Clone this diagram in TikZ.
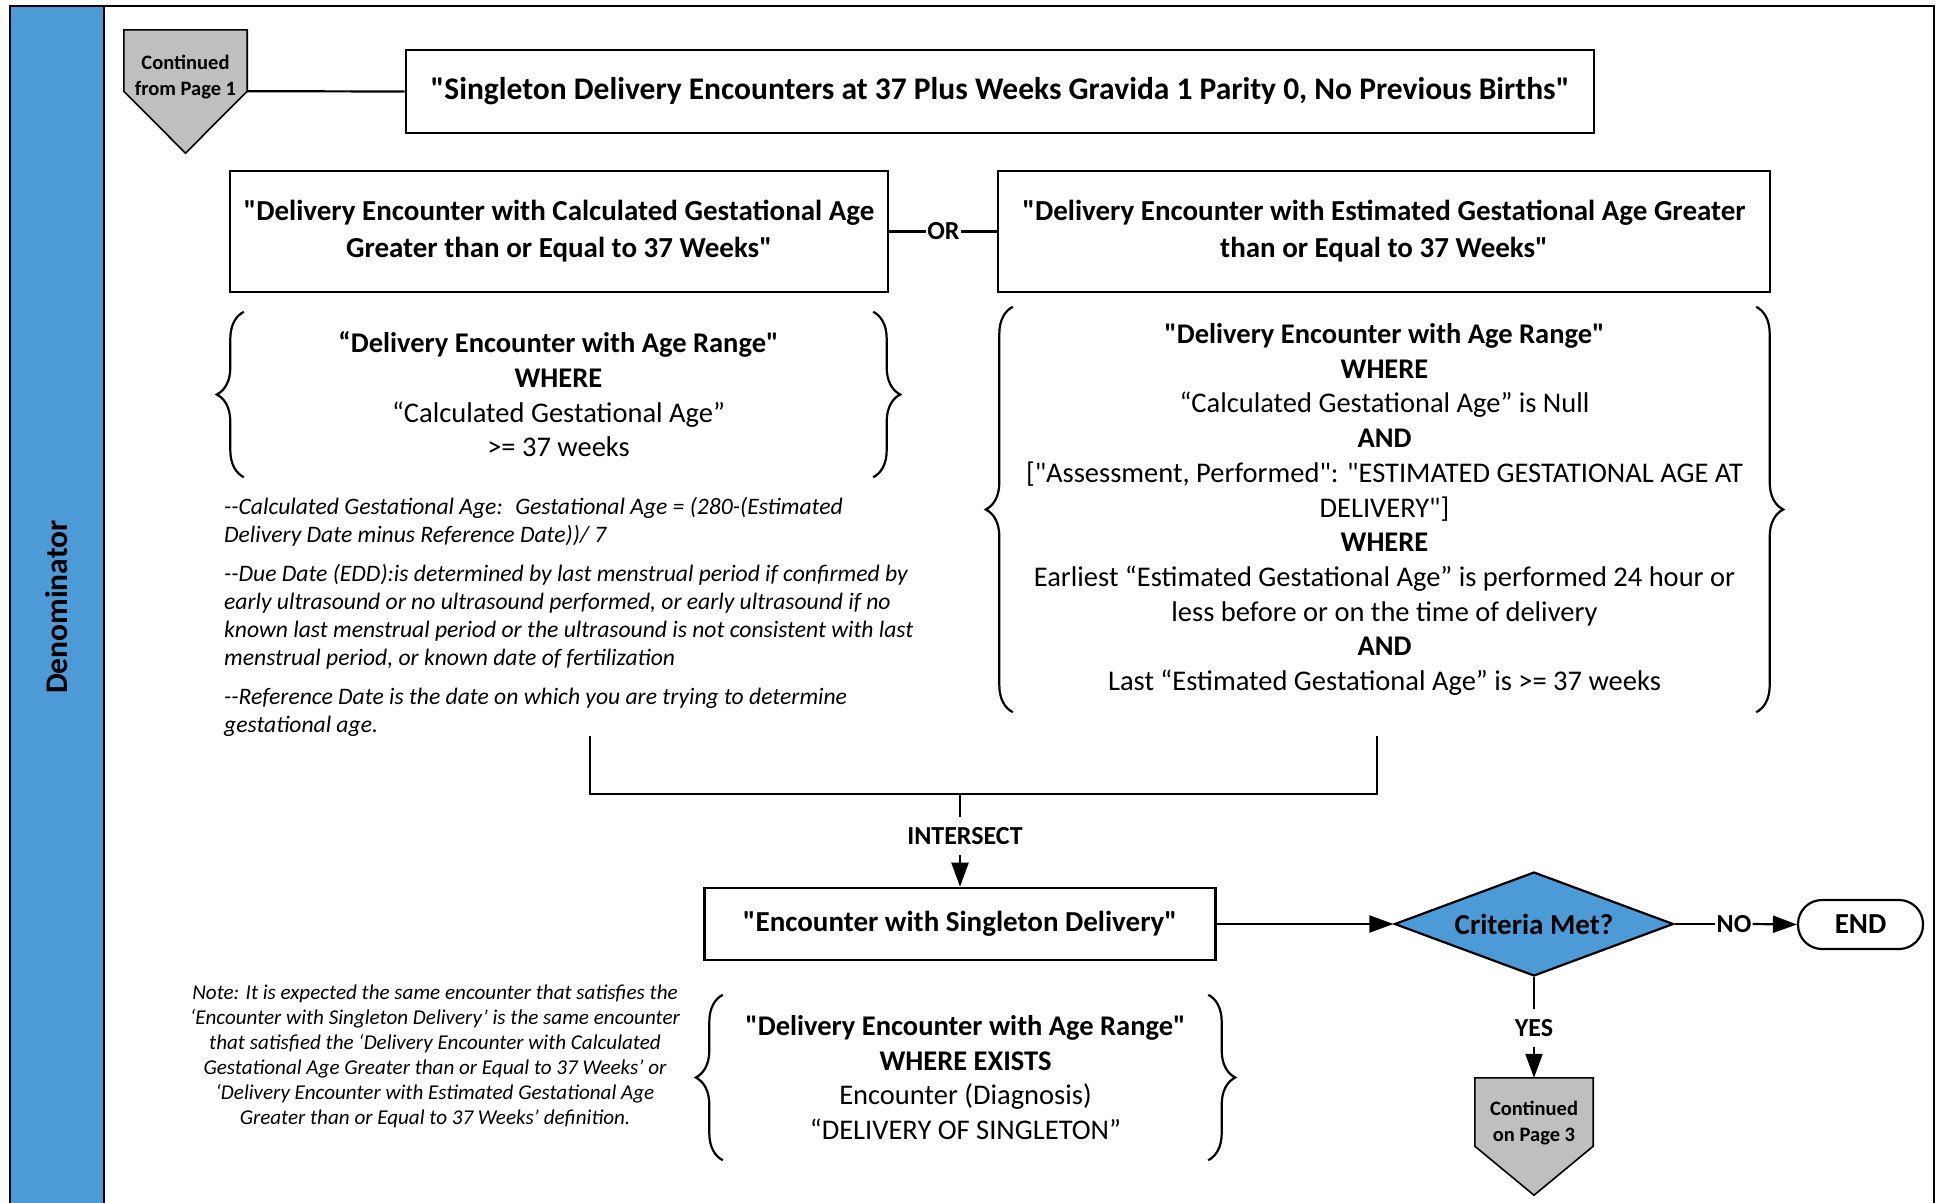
\documentclass[tikz,border=0pt]{standalone}
\usepackage{fontspec}
\setmainfont{Carlito}
\usetikzlibrary{arrows.meta,calc,shapes.geometric,decorations.pathreplacing}
\definecolor{lanebl}{RGB}{77,155,214}
\definecolor{contgr}{RGB}{191,191,191}
\def\fs#1#2{\fontsize{#1}{#2}\selectfont}
\def\dq{\XeTeXglyph\XeTeXcharglyph"22 }

\tikzset{
	qbox/.style={draw, line width=2.6pt, fill=white, align=center, inner sep=0pt, font={\fs{29}{37}\bfseries}},
	brtext/.style={align=center, inner sep=0pt, font={\fs{28.5}{34.7}}},
	lbl/.style={inner xsep=1pt, inner ysep=0pt, font={\fs{26}{30}\bfseries}},
	conn/.style={line width=2.2pt},
	arr/.style={conn, -{Triangle[length=24pt,width=17pt]}},
	brc/.style={line width=2.2pt, decorate, decoration={brace, amplitude=27pt}},
	contbx/.style={draw, line width=1.6pt, fill=contgr, line join=miter},
	conttext/.style={align=center, inner sep=0pt, font={\fs{20.5}{26}\bfseries}}
}

\begin{document}
\begin{tikzpicture}[x=1pt, y=-1pt]
			%%%%% START %%%%%
			\useasboundingbox (0,0) rectangle (1942,1202);
			
			\draw[line width=2.6pt] (10,6) rectangle (1934,1215);
			\draw[line width=2.6pt, fill=lanebl] (10,6) rectangle (104,1215);
			\node[rotate=90, inner sep=0pt, font={\fs{31.5}{36}\bfseries}] (lane) at (57,607) {Denominator};
			
			% continued from page 1
			\node[inner sep=0pt, minimum width=123pt, minimum height=61pt] (cont1) at (185.5,60.5) {};
			\draw[contbx] (cont1.north west) -- (cont1.north east) -- (cont1.south east) -- ($(cont1.south)+(0,62)$) -- (cont1.south west) -- cycle;
			\node[conttext] (cont1txt) at (185.5,77.5) {Continued\\from Page 1};
			
			\node[qbox, minimum width=1188pt, minimum height=83pt, font={\fs{31.5}{37}\bfseries}] (title) at (1000,91.5) {\dq Singleton Delivery Encounters at 37 Plus Weeks Gravida 1 Parity 0, No Previous Births\dq};
			\draw[conn] (cont1.south east) -- (title.west);
			
			% the two branches
			\node[qbox, minimum width=658pt, minimum height=121pt] (calc) at (559,231.5) {\dq Delivery Encounter with Calculated Gestational Age\\Greater than or Equal to 37 Weeks\dq};
			\node[qbox, minimum width=772pt, minimum height=121pt] (estim) at (1384,231.5) {\dq Delivery Encounter with Estimated Gestational Age Greater\\than or Equal to 37 Weeks\dq};
			\node[lbl] (orlbl) at (943.5,231.5) {OR};
			\draw[conn] (calc.east) -- (orlbl.west);
			\draw[conn] (orlbl.east) -- (estim.west);
			
			\node[brtext, minimum width=629pt, minimum height=165pt] (calcw) at (558.5,394.5) {\textbf{“Delivery Encounter with Age Range\dq}\\\textbf{WHERE}\\“Calculated Gestational Age”\\>= 37 weeks};
			\draw[brc] (calcw.south west) -- (calcw.north west);
			\draw[brc] (calcw.north east) -- (calcw.south east);
			
			\node[brtext, minimum width=743pt, minimum height=405pt] (estw) at (1384.5,509.5) {\textbf{\dq Delivery Encounter with Age Range\dq}\\\textbf{WHERE}\\“Calculated Gestational Age” is Null\\\textbf{AND}\\{[}\dq Assessment, Performed\dq: \dq ESTIMATED GESTATIONAL AGE AT\\DELIVERY\dq{]}\\\textbf{WHERE}\\Earliest “Estimated Gestational Age” is performed 24 hour or\\less before or on the time of delivery\\\textbf{AND}\\Last “Estimated Gestational Age” is >= 37 weeks};
			\draw[brc] (estw.south west) -- (estw.north west);
			\draw[brc] (estw.north east) -- (estw.south east);
			
			\node[anchor=north west, align=left, inner sep=0pt, font={\fs{23.6}{28}\itshape}] (defs) at (224,497) {-{}-Calculated Gestational Age: \ Gestational Age = (280-(Estimated\\Delivery Date minus Reference Date))/ 7\\[11pt]-{}-Due Date (EDD):is determined by last menstrual period if confirmed by\\early ultrasound or no ultrasound performed, or early ultrasound if no\\known last menstrual period or the ultrasound is not consistent with last\\menstrual period, or known date of fertilization\\[11pt]-{}-Reference Date is the date on which you are trying to determine\\gestational age.};
			
			% intersect
			\coordinate (jl) at (590,736);
			\coordinate (jr) at (1377,736);
			\coordinate (jm) at (960,794);
			\draw[conn] (jl) |- (jm) -| (jr);
			\node[lbl, minimum height=37pt] (isect) at (965,836) {INTERSECT};
			\node[qbox, minimum width=511pt, minimum height=72pt] (single) at (960,924) {\dq Encounter with Singleton Delivery\dq};
			\draw[conn] (jm) -- (isect.north -| jm);
			\draw[arr] (isect.south -| jm) -- (single.north);
			
			\node[brtext, minimum width=485pt, minimum height=165pt] (singw) at (965.5,1077.5) {\textbf{\dq Delivery Encounter with Age Range\dq}\\\textbf{WHERE EXISTS}\\Encounter (Diagnosis)\\“DELIVERY OF SINGLETON”};
			\draw[brc] (singw.south west) -- (singw.north west);
			\draw[brc] (singw.north east) -- (singw.south east);
			
			\node[align=center, inner sep=0pt, font={\fs{21.1}{25}\itshape}] (note) at (435,1056) {Note: It is expected the same encounter that satisfies the\\‘Encounter with Singleton Delivery’ is the same encounter\\that satisfied the ‘Delivery Encounter with Calculated\\Gestational Age Greater than or Equal to 37 Weeks’ or\\‘Delivery Encounter with Estimated Gestational Age\\Greater than or Equal to 37 Weeks’ definition.};
			
			% decision
			\node[diamond, draw, line width=2.2pt, fill=lanebl, inner sep=0pt, aspect=2.68, minimum width=279pt, minimum height=104pt, font={\fs{29}{35}\bfseries}] (crit) at (1534,924) {Criteria Met?};
			\draw[arr] (single.east) -- (crit.west);
			
			\node[lbl] (nolbl) at (1734,924) {NO};
			\node[draw, line width=2.2pt, rounded corners=24pt, minimum width=125pt, minimum height=49pt, inner sep=0pt, font={\fs{29}{35}\bfseries}] (endnode) at (1860.5,924.5) {END};
			\draw[conn] (crit.east) -- (nolbl.west);
			\draw[arr] (nolbl.east) -- (endnode.west);
			
			\node[lbl, minimum height=38pt] (yeslbl) at (1534,1028) {YES};
			\node[inner sep=0pt, minimum width=118pt, minimum height=68pt] (cont3) at (1534,1112) {};
			\draw[conn] (crit.south) -- (yeslbl.north);
			\draw[arr] (yeslbl.south) -- (cont3.north);
			\draw[contbx] (cont3.north west) -- (cont3.north east) -- (cont3.south east) -- ($(cont3.south)+(0,49)$) -- (cont3.south west) -- cycle;
			\node[conttext] (cont3txt) at (1534,1123.5) {Continued\\on Page 3};
			
			%%%%% END %%%%%
\end{tikzpicture}
\end{document}
